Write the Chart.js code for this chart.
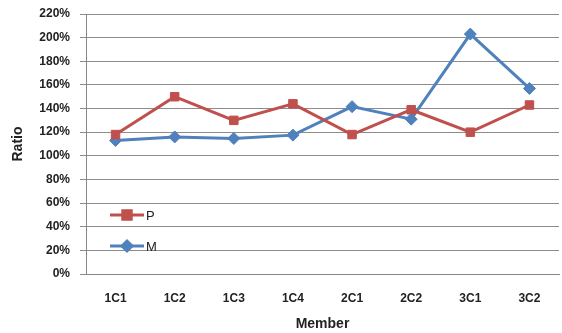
<!DOCTYPE html>
<html>
<head>
<meta charset="utf-8">
<script src="https://cdn.jsdelivr.net/npm/chart.js@4.4.1/dist/chart.umd.min.js"></script>
<style>
  html, body { margin: 0; padding: 0; background: #fff; }
  #wrap { width: 562px; height: 333px; }
</style>
</head>
<body>
<div id="wrap"><canvas id="ratioChart" width="562" height="333"></canvas></div>
<script>
const members = ["1C1", "1C2", "1C3", "1C4", "2C1", "2C2", "3C1", "3C2"];
const pValues = [118, 150, 130, 144, 118, 139, 120, 143];
const mValues = [113, 116, 114.7, 117.5, 141.6, 131, 203, 157];
const yTicks = [0, 20, 40, 60, 80, 100, 120, 140, 160, 180, 200, 220];

const RED = "#C0504D";
const BLUE = "#4F81BD";
const FONT = "'Liberation Sans', 'DejaVu Sans', sans-serif";

// legend drawn inside the plot, lower left
const innerLegend = {
  id: "innerLegend",
  afterDraw(chart) {
    const ctx = chart.ctx;
    const items = [
      { text: "P", color: RED, style: "rect", y: 215 },
      { text: "M", color: BLUE, style: "rectRot", y: 246 }
    ];
    ctx.save();
    items.forEach(it => {
      ctx.strokeStyle = it.color;
      ctx.lineWidth = 3;
      ctx.beginPath();
      ctx.moveTo(110, it.y);
      ctx.lineTo(144, it.y);
      ctx.stroke();
      ctx.fillStyle = it.color;
      Chart.helpers.drawPoint(ctx, {
        pointStyle: it.style,
        radius: it.style === "rect" ? 6 : 5,
        rotation: 0,
        borderWidth: 1
      }, 127, it.y);
      ctx.fillStyle = "#222";
      ctx.font = "13px " + FONT;
      ctx.textBaseline = "middle";
      ctx.fillText(it.text, 146, it.y + 1);
    });
    ctx.restore();
  }
};

new Chart(document.getElementById("ratioChart"), {
  type: "line",
  data: {
    labels: members,
    datasets: [
      {
        label: "P",
        data: pValues,
        borderColor: RED,
        backgroundColor: RED,
        borderWidth: 3,
        pointStyle: "rect",
        pointRadius: 6,
        pointBorderWidth: 1,
        pointHoverRadius: 6,
        tension: 0
      },
      {
        label: "M",
        data: mValues,
        borderColor: BLUE,
        backgroundColor: BLUE,
        borderWidth: 3,
        pointStyle: "rectRot",
        pointRadius: 6,
        pointBorderWidth: 1,
        pointHoverRadius: 6,
        tension: 0
      }
    ]
  },
  options: {
    responsive: false,
    animation: false,
    layout: {
      autoPadding: false,
      padding: { top: 14, right: 3, left: 10, bottom: 0 }
    },
    plugins: {
      legend: { display: false },
      tooltip: { enabled: false }
    },
    scales: {
      x: {
        offset: true,
        grid: { display: false, drawTicks: false },
        border: { color: "#868686", width: 1 },
        ticks: {
          color: "#222",
          font: { family: FONT, size: 12, weight: "bold" },
          padding: 17,
          maxRotation: 0
        },
        title: {
          display: true,
          text: "Member",
          color: "#222",
          font: { family: FONT, size: 14, weight: "bold" },
          padding: { top: 6, bottom: 0 }
        },
        afterFit(scale) {
          scale.height = 59;
          scale.paddingLeft = 0;
          scale.paddingRight = 0;
        }
      },
      y: {
        min: 0,
        max: 220,
        afterBuildTicks(scale) {
          scale.ticks = yTicks.map(v => ({ value: v }));
        },
        grid: {
          color: "#8c8c8c",
          lineWidth: 1,
          tickLength: 6,
          tickColor: "#8c8c8c"
        },
        border: { color: "#868686", width: 1 },
        ticks: {
          color: "#222",
          font: { family: FONT, size: 12, weight: "bold" },
          padding: 10,
          callback: v => v + "%"
        },
        title: {
          display: true,
          text: "Ratio",
          color: "#222",
          font: { family: FONT, size: 14, weight: "bold" },
          padding: { top: 0, bottom: 0 }
        },
        afterFit(scale) {
          scale.width = 76;
          scale.paddingTop = 0;
          scale.paddingBottom = 0;
        }
      }
    }
  },
  plugins: [innerLegend]
});
</script>
</body>
</html>
